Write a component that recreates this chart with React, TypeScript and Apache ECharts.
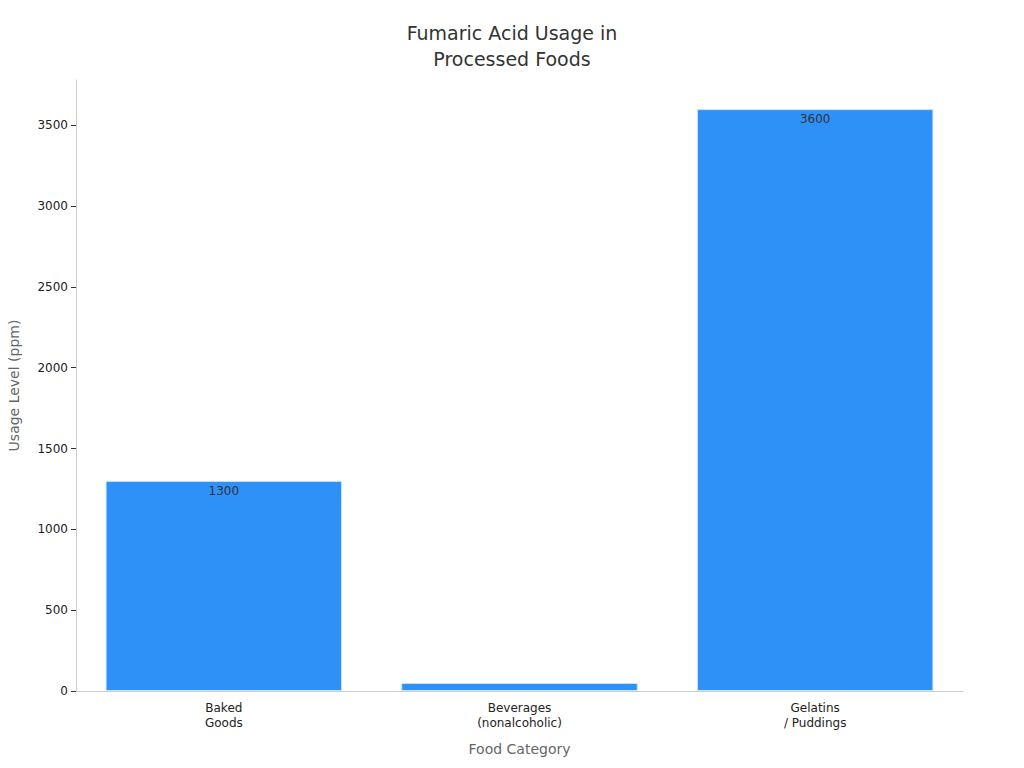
import React, { useEffect, useRef } from 'react';
import * as echarts from 'echarts';

const categories = ['Baked\nGoods', 'Beverages\n(nonalcoholic)', 'Gelatins\n/ Puddings'];
const usagePpm = [1300, 50, 3600];
const yTicks = [0, 500, 1000, 1500, 2000, 2500, 3000, 3500];

const FONT = 'DejaVu Sans';

const App: React.FC = () => {
  const chartRef = useRef<HTMLDivElement>(null);

  useEffect(() => {
    if (!chartRef.current) return;
    const chart = echarts.init(chartRef.current, undefined, { renderer: 'svg' });

    chart.setOption({
      animation: false,
      textStyle: { fontFamily: FONT },
      title: {
        text: 'Fumaric Acid Usage in\nProcessed Foods',
        left: 'center',
        top: 15,
        textStyle: { fontFamily: FONT, fontSize: 19, fontWeight: 'normal', color: '#333', lineHeight: 26 },
      },
      grid: { left: 76, right: 61, top: 80, bottom: 77, containLabel: false, outerBoundsMode: 'none' },
      xAxis: {
        type: 'category',
        data: categories,
        name: 'Food Category',
        nameLocation: 'middle',
        nameGap: 51,
        nameTextStyle: { fontFamily: FONT, fontSize: 14, color: '#666' },
        axisLine: { lineStyle: { color: '#ccc' } },
        axisTick: { alignWithLabel: true, length: 5, lineStyle: { color: '#333' } },
        axisLabel: { fontFamily: FONT, fontSize: 12, color: '#222', lineHeight: 15, margin: 9 },
      },
      yAxis: {
        type: 'value',
        min: 0,
        max: 3780,
        name: 'Usage Level (ppm)',
        nameLocation: 'middle',
        nameGap: 55,
        nameTextStyle: { fontFamily: FONT, fontSize: 14, color: '#666' },
        axisLine: { show: true, lineStyle: { color: '#ccc' } },
        axisTick: { show: true, length: 5, customValues: yTicks, lineStyle: { color: '#333' } },
        axisLabel: {
          fontFamily: FONT,
          fontSize: 12,
          color: '#222',
          customValues: yTicks,
          formatter: (v: number) => String(v),
        },
        splitLine: { show: false },
      },
      series: [
        {
          type: 'bar',
          data: usagePpm.map((v) => ({
            value: v,
            label: { show: v > 200 },
          })),
          barCategoryGap: '20%',
          itemStyle: { color: '#2e91f8', borderColor: '#cfe4fc', borderWidth: 1 },
          label: {
            show: true,
            position: 'insideTop',
            fontFamily: FONT,
            fontSize: 12,
            color: '#333',
            offset: [0, -1],
          },
        },
      ],
    });

    return () => {
      chart.dispose();
    };
  }, []);

  return <div ref={chartRef} style={{ width: '1024px', height: '768px', margin: '-8px' }} />;
};

export default App;
